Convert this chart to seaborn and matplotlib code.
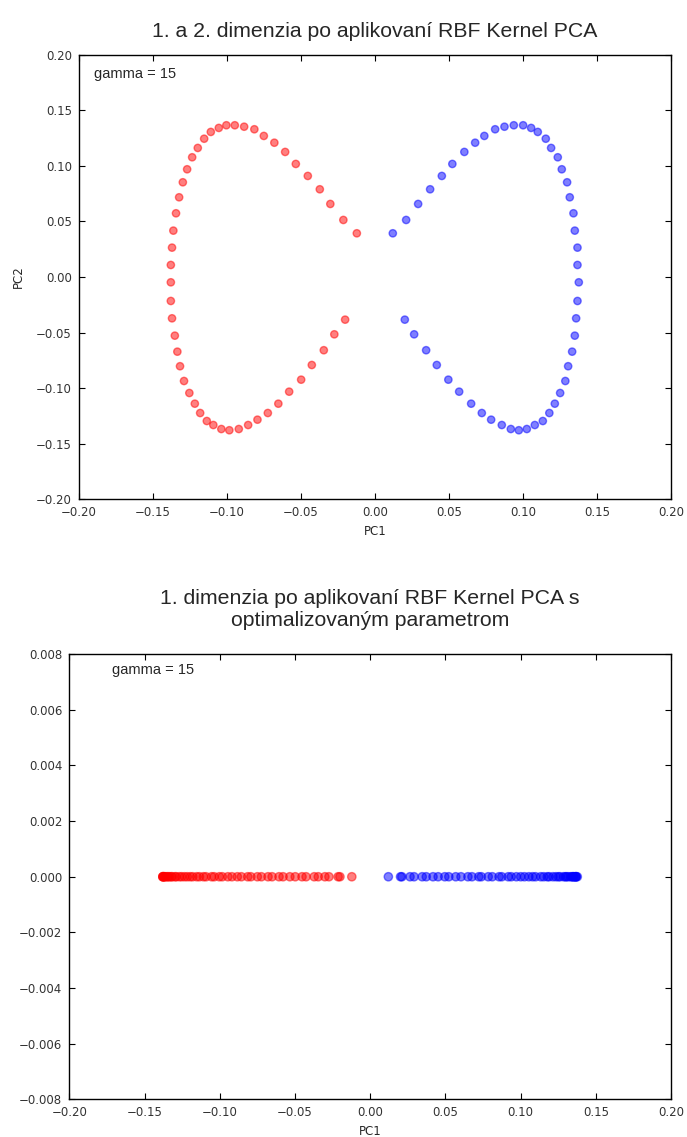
import numpy as np
import pandas as pd
import matplotlib
matplotlib.use("Agg")
import matplotlib.pyplot as plt
import seaborn as sns

# ---- data ----
red_pc1 = [-0.0122, -0.0213, -0.0301, -0.0372, -0.0453, -0.0534, -0.0606, -0.0679, -0.0750, -0.0814,
           -0.0883, -0.0946, -0.1003, -0.1054, -0.1108, -0.1153, -0.1196, -0.1234, -0.1268, -0.1297,
           -0.1322, -0.1343, -0.1361, -0.1370, -0.1378, -0.1378, -0.1378, -0.1370, -0.1351, -0.1334,
           -0.1316, -0.1289, -0.1253, -0.1216, -0.1180, -0.1135, -0.1091, -0.1037, -0.0983, -0.0919,
           -0.0856, -0.0793, -0.0723, -0.0652, -0.0579, -0.0498, -0.0426, -0.0345, -0.0274, -0.0201]
red_pc2 = [0.0393, 0.0513, 0.0657, 0.0789, 0.0909, 0.1017, 0.1125, 0.1208, 0.1269, 0.1329,
           0.1352, 0.1365, 0.1365, 0.1341, 0.1305, 0.1244, 0.1161, 0.1077, 0.0969, 0.0852,
           0.0717, 0.0573, 0.0417, 0.0264, 0.0108, -0.0048, -0.0216, -0.0372, -0.0528, -0.0672,
           -0.0803, -0.0936, -0.1044, -0.1140, -0.1224, -0.1296, -0.1332, -0.1368, -0.1379, -0.1368,
           -0.1332, -0.1284, -0.1224, -0.1140, -0.1032, -0.0924, -0.0792, -0.0659, -0.0516, -0.0384]
blue_pc1 = [0.0121, 0.0211, 0.0292, 0.0373, 0.0452, 0.0523, 0.0604, 0.0677, 0.0739, 0.0812,
            0.0875, 0.0938, 0.1001, 0.1055, 0.1100, 0.1154, 0.1190, 0.1235, 0.1262, 0.1298,
            0.1316, 0.1341, 0.1350, 0.1368, 0.1368, 0.1377, 0.1368, 0.1359, 0.1350, 0.1332,
            0.1305, 0.1286, 0.1251, 0.1215, 0.1178, 0.1134, 0.1080, 0.1026, 0.0972, 0.0918,
            0.0857, 0.0785, 0.0722, 0.0650, 0.0569, 0.0496, 0.0418, 0.0346, 0.0265, 0.0202]
blue_pc2 = [0.0393, 0.0513, 0.0657, 0.0789, 0.0909, 0.1017, 0.1125, 0.1208, 0.1269, 0.1329,
            0.1352, 0.1365, 0.1365, 0.1341, 0.1305, 0.1244, 0.1161, 0.1077, 0.0969, 0.0852,
            0.0717, 0.0573, 0.0417, 0.0264, 0.0108, -0.0048, -0.0216, -0.0372, -0.0528, -0.0672,
            -0.0803, -0.0936, -0.1044, -0.1140, -0.1224, -0.1296, -0.1332, -0.1368, -0.1379, -0.1368,
            -0.1332, -0.1284, -0.1224, -0.1140, -0.1032, -0.0924, -0.0792, -0.0659, -0.0516, -0.0384]

top_xticks = [-0.20, -0.15, -0.10, -0.05, 0.00, 0.05, 0.10, 0.15, 0.20]
top_yticks = [-0.20, -0.15, -0.10, -0.05, 0.00, 0.05, 0.10, 0.15, 0.20]
bot_yticks = [-0.008, -0.006, -0.004, -0.002, 0.000, 0.002, 0.004, 0.006, 0.008]

title_top = "1. a 2. dimenzia po aplikovaní RBF Kernel PCA"
title_bot = "1. dimenzia po aplikovaní RBF Kernel PCA s\noptimalizovaným parametrom"
note = "gamma = 15"

df_top = pd.DataFrame({
    "PC1": red_pc1 + blue_pc1,
    "PC2": red_pc2 + blue_pc2,
    "cls": ["a"] * len(red_pc1) + ["b"] * len(blue_pc1),
})
df_bot = df_top.assign(zero=0.0)

sns.set_style("white")
plt.rcParams.update({
    "xtick.direction": "in", "ytick.direction": "in",
    "xtick.top": True, "ytick.right": True,
    "xtick.bottom": True, "ytick.left": True,
    "xtick.major.size": 4, "ytick.major.size": 4,
    "axes.edgecolor": "black", "axes.linewidth": 1.0,
})
plt.rcParams["font.family"] = ["DejaVu Sans"]

fig = plt.figure(figsize=(6.87, 11.37), dpi=100)
ax1 = fig.add_axes([0.1146, 0.5609, 0.8622, 0.3910])
ax2 = fig.add_axes([0.1009, 0.0332, 0.8758, 0.3914])

pal = {"a": "red", "b": "blue"}

sns.scatterplot(data=df_top, x="PC1", y="PC2", hue="cls", palette=pal, ax=ax1,
                s=28, alpha=0.5, linewidth=1, legend=False)
for coll in ax1.collections:
    coll.set_edgecolor(coll.get_facecolor())

sns.scatterplot(data=df_bot, x="PC1", y="zero", hue="cls", palette=pal, ax=ax2,
                s=36, alpha=0.5, linewidth=1, legend=False)
for coll in ax2.collections:
    coll.set_edgecolor(coll.get_facecolor())

tick_fs = 8.5
title_fs = 15.3
ax1.set_xlim(-0.2, 0.2)
ax1.set_ylim(-0.2, 0.2)
ax1.set_xticks(top_xticks)
ax1.set_yticks(top_yticks)
ax1.set_xticklabels([f"{t:.2f}".replace("-", "\u2212") for t in top_xticks])
ax1.set_yticklabels([f"{t:.2f}".replace("-", "\u2212") for t in top_yticks])
ax1.set_xlabel("PC1", fontsize=8.5, labelpad=4)
ax1.set_ylabel("PC2", fontsize=8.5, labelpad=8)
ax1.set_title(title_top, fontsize=title_fs, family=["Liberation Sans"], pad=13)
ax1.text(-0.19, 0.179, note, fontsize=10.5, family=["Liberation Sans"])

ax2.set_xlim(-0.2, 0.2)
ax2.set_ylim(-0.008, 0.008)
ax2.set_xticks(top_xticks)
ax2.set_yticks(bot_yticks)
ax2.set_xticklabels([f"{t:.2f}".replace("-", "\u2212") for t in top_xticks])
ax2.set_yticklabels([f"{t:.3f}".replace("-", "\u2212") for t in bot_yticks])
ax2.set_xlabel("PC1", fontsize=8.5, labelpad=4)
ax2.set_ylabel("")
ax2.set_title(title_bot, fontsize=title_fs, family=["Liberation Sans"], pad=20, linespacing=1.2)
ax2.text(-0.1717, 0.0073, note, fontsize=10.5, family=["Liberation Sans"])

for ax in (ax1, ax2):
    ax.tick_params(labelsize=tick_fs, colors="black", labelcolor="#333333", pad=5)
    for sp in ax.spines.values():
        sp.set_visible(True)
        sp.set_color("black")

fig.savefig("out.png", dpi=100)
